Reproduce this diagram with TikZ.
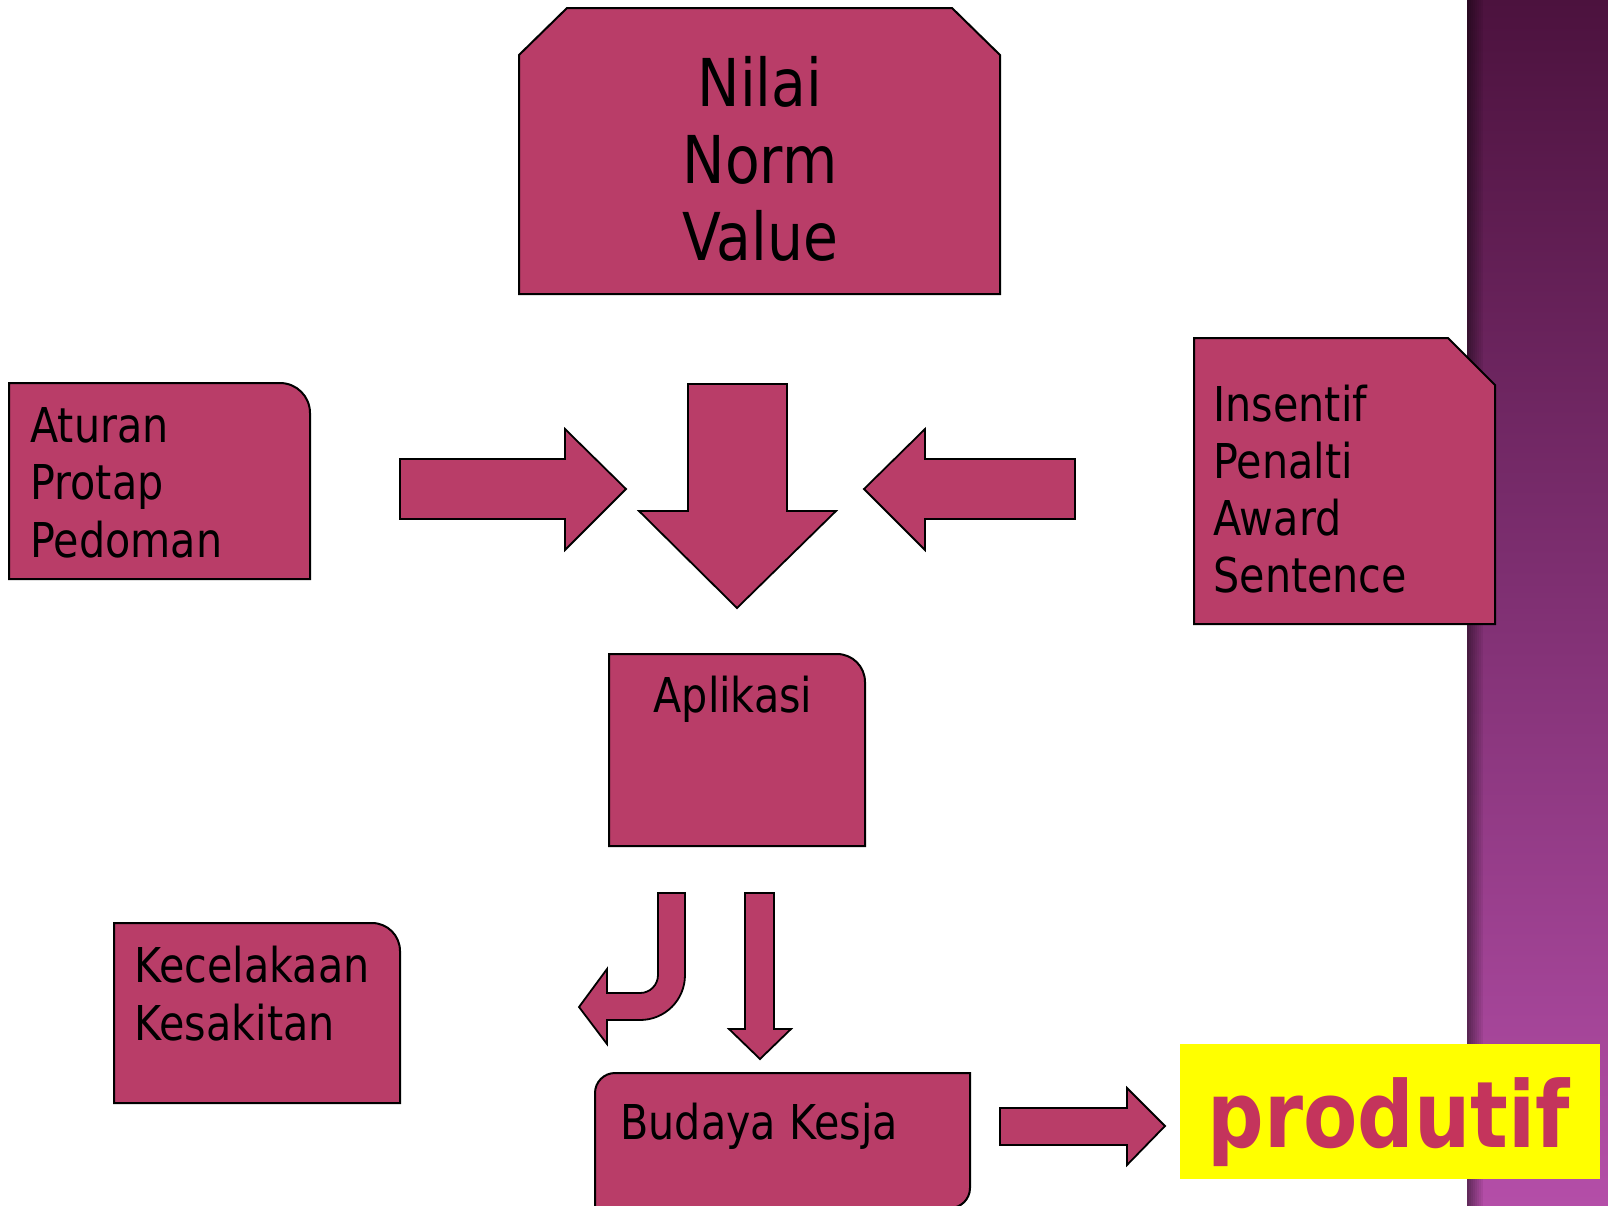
\documentclass[tikz,border=0pt]{standalone}
\usepackage{fontspec}
\setmainfont{DejaVu Sans}[FakeStretch=0.86]
\usepackage{tikz}

\definecolor{kotak}{RGB}{185,61,104}
\definecolor{kuning}{RGB}{255,255,0}
\definecolor{hasil}{RGB}{196,52,92}
\definecolor{bandatas}{RGB}{76,18,62}
\definecolor{bandtengah}{RGB}{132,48,114}
\definecolor{bandbawah}{RGB}{180,78,168}

\begin{document}
\begin{tikzpicture}
  [x=0.5pt,y=-0.5pt,
   blok/.style={fill=kotak,draw=black,line width=1pt},
   panah/.style={fill=kotak,draw=black,line width=0.9pt},
   teks/.style={inner sep=0pt,font=\fontsize{24}{28}\selectfont,anchor=base west},
   besar/.style={inner sep=0pt,font=\fontsize{33}{38}\selectfont,anchor=base}]
  \useasboundingbox (0,0) rectangle (1608,1206);
  \fill[white] (0,0) rectangle (1608,1206);

  % purple band on the right
  \shade[top color=bandatas,middle color=bandtengah,bottom color=bandbawah] (1467,0) rectangle (1608,1206);
  \foreach \i in {0,...,7}
    \fill[black,opacity={0.45-0.055*\i}] ({1467+2*\i},0) rectangle ({1469+2*\i},1206);

  % boxes
  \draw[blok] (519,294) -- (519,55) -- (567,8) -- (952,8) -- (1000,55) -- (1000,294) -- cycle;
  \draw[blok] (9,579) -- (9,383) -- (280,383) .. controls (296.6,383) and (310,396.4) .. (310,413) -- (310,579) -- cycle;
  \draw[blok] (1194,624) -- (1194,338) -- (1448,338) -- (1495,385) -- (1495,624) -- cycle;
  \draw[blok] (609,846) -- (609,654) -- (837,654) .. controls (852.5,654) and (865,666.5) .. (865,682) -- (865,846) -- cycle;
  \draw[blok] (114,1103) -- (114,923) -- (372,923) .. controls (387.5,923) and (400,935.5) .. (400,951) -- (400,1103) -- cycle;
  \draw[blok] (595,1208) -- (595,1093) .. controls (595,1082) and (604,1073) .. (615,1073) -- (970,1073)
    -- (970,1188) .. controls (970,1199) and (961,1208) .. (950,1208) -- cycle;
  \fill[kuning] (1180,1044) rectangle (1600,1179);

  % block arrows
  \draw[panah] (400,459) -- (565,459) -- (565,429) -- (626,489) -- (565,550) -- (565,519) -- (400,519) -- cycle;
  \draw[panah] (688,384) -- (787,384) -- (787,511) -- (836,511) -- (737,608) -- (639,511) -- (688,511) -- cycle;
  \draw[panah] (1075,459) -- (925,459) -- (925,429) -- (864,489) -- (925,550) -- (925,519) -- (1075,519) -- cycle;
  \draw[panah] (658,893) -- (685,893) -- (685,975) .. controls (685,1000) and (665,1020) .. (640,1020)
    -- (607,1020) -- (607,1044) -- (579,1007) -- (607,969) -- (607,993) -- (640,993)
    .. controls (650,993) and (658,985) .. (658,975) -- cycle;
  \draw[panah] (745,893) -- (774,893) -- (774,1029) -- (791,1029) -- (760,1059) -- (729,1029) -- (745,1029) -- cycle;
  \draw[panah] (1000,1108) -- (1127,1108) -- (1127,1088) -- (1165,1126) -- (1127,1165) -- (1127,1145) -- (1000,1145) -- cycle;

  % labels
  \foreach \kata/\y [count=\i] in {Nilai/106,Norm/183,Value/260}
    \node[besar] (nilai\i) at (760,\y) {\kata};
  \foreach \kata/\y [count=\i] in {Aturan/442,Protap/499,Pedoman/557}
    \node[teks] (atur\i) at (30,\y) {\kata};
  \foreach \kata/\y [count=\i] in {Insentif/421,Penalti/478,Award/535,Sentence/592}
    \node[teks] (insen\i) at (1213,\y) {\kata};
  \foreach \kata/\y [count=\i] in {Kecelakaan/982,Kesakitan/1040}
    \node[teks] (keclk\i) at (134,\y) {\kata};
  \node[teks,anchor=base] (aplikasi) at (733,712) {Aplikasi};
  \node[teks] (budaya) at (620,1139) {Budaya Kesja};
  \node[inner sep=0pt,anchor=base west,text=hasil,font=\fontsize{46}{50}\selectfont\bfseries]
    (produtif) at (1207,1147) {produtif};
\end{tikzpicture}
\end{document}
